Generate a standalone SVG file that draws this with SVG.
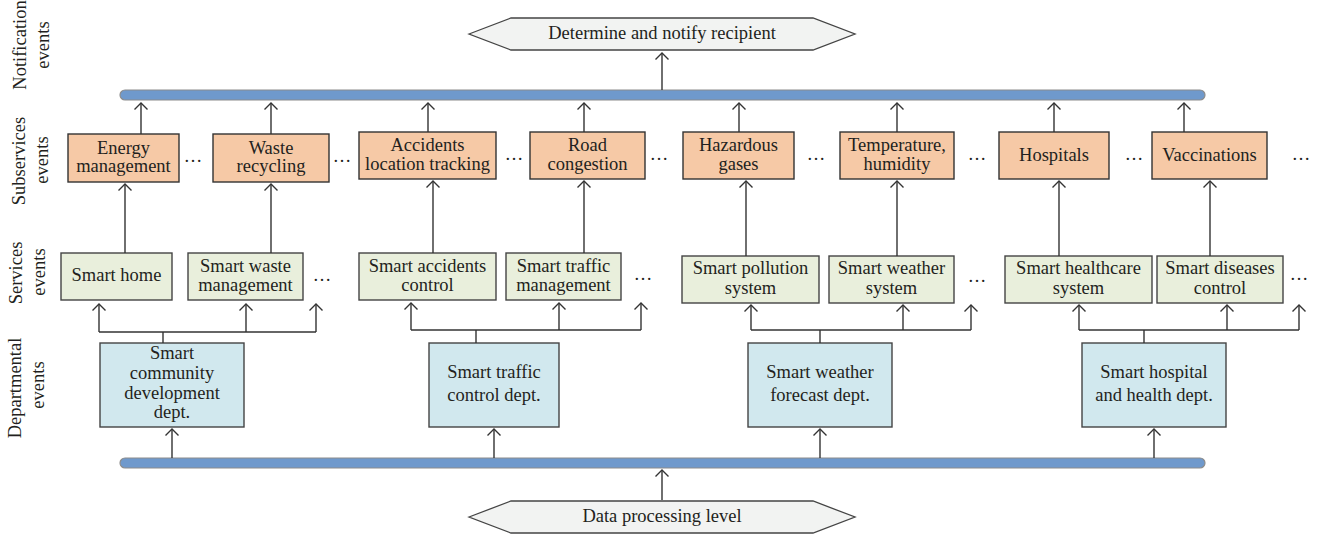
<svg xmlns="http://www.w3.org/2000/svg" width="1320" height="537" viewBox="0 0 1320 537">
<style>
text{font-family:"Liberation Serif","Times New Roman",serif;font-size:18.5px;fill:#231f20;text-anchor:middle}
.sub{fill:#f6c9a6;stroke:#333;stroke-width:1.4}
.srv{fill:#e9efdc;stroke:#444;stroke-width:1.4}
.dep{fill:#d1e8ee;stroke:#444;stroke-width:1.4}
.bar{fill:#6f99cc;stroke:#8c8c8c;stroke-width:1.2}
.hex{fill:#f2f3f2;stroke:#444;stroke-width:1.3}
.c line,.c path{stroke:#333;stroke-width:1.4;fill:none}
.a{marker-end:url(#ah)}
</style>
<defs>
<marker id="ah" viewBox="-8 -8 10 16" refX="0" refY="0" markerWidth="10" markerHeight="16" orient="auto" markerUnits="userSpaceOnUse">
<path d="M-6.5,-6.5 L0,0 L-6.5,6.5" fill="none" stroke="#333" stroke-width="1.4"/>
</marker>
</defs>

<g id="axis-labels">
<text transform="translate(26,45) rotate(-90)">Notification</text>
<text transform="translate(49,45) rotate(-90)">events</text>
<text transform="translate(25,161) rotate(-90)">Subservices</text>
<text transform="translate(48,160) rotate(-90)">events</text>
<text transform="translate(22,273) rotate(-90)">Services</text>
<text transform="translate(45,272) rotate(-90)">events</text>
<text transform="translate(21,388) rotate(-90)">Departmental</text>
<text transform="translate(44,385) rotate(-90)">events</text>
</g>

<g id="notify">
<polygon class="hex" points="469,34 511,18 813,18 855,34 813,50 511,50"/>
<text x="662" y="39">Determine and notify recipient</text>
</g>
<g id="top-bar"><rect class="bar" x="120" y="90" width="1085" height="10" rx="5"/></g>

<g id="sub1"><rect class="sub" x="68" y="134" width="111" height="48"/><text x="123.5" y="154">Energy</text><text x="123.5" y="172">management</text></g>
<g id="sub2"><rect class="sub" x="213" y="134" width="116" height="48"/><text x="271" y="154">Waste</text><text x="271" y="172">recycling</text></g>
<g id="sub3"><rect class="sub" x="359" y="132" width="137" height="47"/><text x="427.5" y="151">Accidents</text><text x="427.5" y="170">location tracking</text></g>
<g id="sub4"><rect class="sub" x="530" y="132" width="115" height="47"/><text x="587.5" y="151">Road</text><text x="587.5" y="170">congestion</text></g>
<g id="sub5"><rect class="sub" x="683" y="132" width="111" height="47"/><text x="738.5" y="151">Hazardous</text><text x="738.5" y="170">gases</text></g>
<g id="sub6"><rect class="sub" x="840" y="132" width="114" height="47"/><text x="897" y="151">Temperature,</text><text x="897" y="170">humidity</text></g>
<g id="sub7"><rect class="sub" x="999" y="132" width="110" height="47"/><text x="1054" y="161">Hospitals</text></g>
<g id="sub8"><rect class="sub" x="1152" y="132" width="115" height="47"/><text x="1209.5" y="161">Vaccinations</text></g>
<g id="sub-dots">
<text x="193" y="162">…</text><text x="342" y="162">…</text><text x="514" y="160">…</text><text x="659" y="160">…</text>
<text x="816" y="160">…</text><text x="977" y="160">…</text><text x="1134" y="160">…</text><text x="1301" y="160">…</text>
</g>

<g id="srv1"><rect class="srv" x="61" y="253" width="111" height="47"/><text x="116.5" y="281">Smart home</text></g>
<g id="srv2"><rect class="srv" x="188" y="253" width="115" height="47"/><text x="245.5" y="272">Smart waste</text><text x="245.5" y="291">management</text></g>
<g id="srv3"><rect class="srv" x="359" y="253" width="137" height="47"/><text x="427.5" y="272">Smart accidents</text><text x="427.5" y="291">control</text></g>
<g id="srv4"><rect class="srv" x="506" y="253" width="115" height="47"/><text x="563.5" y="272">Smart traffic</text><text x="563.5" y="291">management</text></g>
<g id="srv5"><rect class="srv" x="682" y="256" width="137" height="47"/><text x="750.5" y="274">Smart pollution</text><text x="750.5" y="294">system</text></g>
<g id="srv6"><rect class="srv" x="829" y="256" width="125" height="47"/><text x="891.5" y="274">Smart weather</text><text x="891.5" y="294">system</text></g>
<g id="srv7"><rect class="srv" x="1005" y="256" width="147" height="47"/><text x="1078.5" y="274">Smart healthcare</text><text x="1078.5" y="294">system</text></g>
<g id="srv8"><rect class="srv" x="1157" y="256" width="126" height="47"/><text x="1220" y="274">Smart diseases</text><text x="1220" y="294">control</text></g>
<g id="srv-dots">
<text x="322" y="281">…</text><text x="643" y="280">…</text><text x="977" y="282">…</text><text x="1299" y="280">…</text>
</g>

<g id="dep1"><rect class="dep" x="100" y="343" width="144" height="84"/><text x="172" y="359">Smart</text><text x="172" y="379">community</text><text x="172" y="399">development</text><text x="172" y="418">dept.</text></g>
<g id="dep2"><rect class="dep" x="429" y="343" width="130" height="84"/><text x="494" y="378">Smart traffic</text><text x="494" y="401">control dept.</text></g>
<g id="dep3"><rect class="dep" x="748" y="343" width="144" height="84"/><text x="820" y="378">Smart weather</text><text x="820" y="401">forecast dept.</text></g>
<g id="dep4"><rect class="dep" x="1082" y="343" width="144" height="84"/><text x="1154" y="378">Smart hospital</text><text x="1154" y="401">and health dept.</text></g>

<g id="bottom-bar"><rect class="bar" x="120" y="458" width="1085" height="10" rx="5"/></g>
<g id="data">
<polygon class="hex" points="469,517 511,501 813,501 855,517 813,533 511,533"/>
<text x="662" y="522">Data processing level</text>
</g>

<g id="connectors" class="c">
<line class="a" x1="662" y1="90" x2="662" y2="53"/>
<line class="a" x1="141" y1="134" x2="141" y2="103"/>
<line class="a" x1="271" y1="134" x2="271" y2="103"/>
<line class="a" x1="428" y1="132" x2="428" y2="103"/>
<line class="a" x1="584" y1="132" x2="584" y2="103"/>
<line class="a" x1="739" y1="132" x2="739" y2="103"/>
<line class="a" x1="897" y1="132" x2="897" y2="103"/>
<line class="a" x1="1054" y1="132" x2="1054" y2="103"/>
<line class="a" x1="1184" y1="132" x2="1184" y2="103"/>

<line class="a" x1="125" y1="253" x2="125" y2="184"/>
<line class="a" x1="271" y1="253" x2="271" y2="184"/>
<line class="a" x1="433" y1="253" x2="433" y2="181"/>
<line class="a" x1="584" y1="253" x2="584" y2="181"/>
<line class="a" x1="746" y1="256" x2="746" y2="181"/>
<line class="a" x1="897" y1="256" x2="897" y2="181"/>
<line class="a" x1="1059" y1="256" x2="1059" y2="181"/>
<line class="a" x1="1210" y1="256" x2="1210" y2="181"/>

<line x1="163" y1="343" x2="163" y2="332"/>
<path d="M99,332 H316"/>
<line class="a" x1="99" y1="332" x2="99" y2="304"/>
<line class="a" x1="246" y1="332" x2="246" y2="304"/>
<line class="a" x1="316" y1="332" x2="316" y2="304"/>

<line x1="476" y1="343" x2="476" y2="330"/>
<path d="M411,330 H641"/>
<line class="a" x1="411" y1="330" x2="411" y2="303"/>
<line class="a" x1="559" y1="330" x2="559" y2="303"/>
<line class="a" x1="641" y1="330" x2="641" y2="303"/>

<line x1="820" y1="343" x2="820" y2="330"/>
<path d="M751,330 H971"/>
<line class="a" x1="751" y1="330" x2="751" y2="305"/>
<line class="a" x1="903" y1="330" x2="903" y2="305"/>
<line class="a" x1="971" y1="330" x2="971" y2="305"/>

<line x1="1144" y1="343" x2="1144" y2="330"/>
<path d="M1079,330 H1299"/>
<line class="a" x1="1079" y1="330" x2="1079" y2="305"/>
<line class="a" x1="1227" y1="330" x2="1227" y2="305"/>
<line class="a" x1="1299" y1="330" x2="1299" y2="305"/>

<line class="a" x1="172" y1="458" x2="172" y2="429"/>
<line class="a" x1="494" y1="458" x2="494" y2="429"/>
<line class="a" x1="820" y1="458" x2="820" y2="429"/>
<line class="a" x1="1154" y1="458" x2="1154" y2="429"/>
<line class="a" x1="662" y1="500" x2="662" y2="470"/>
</g>
</svg>
